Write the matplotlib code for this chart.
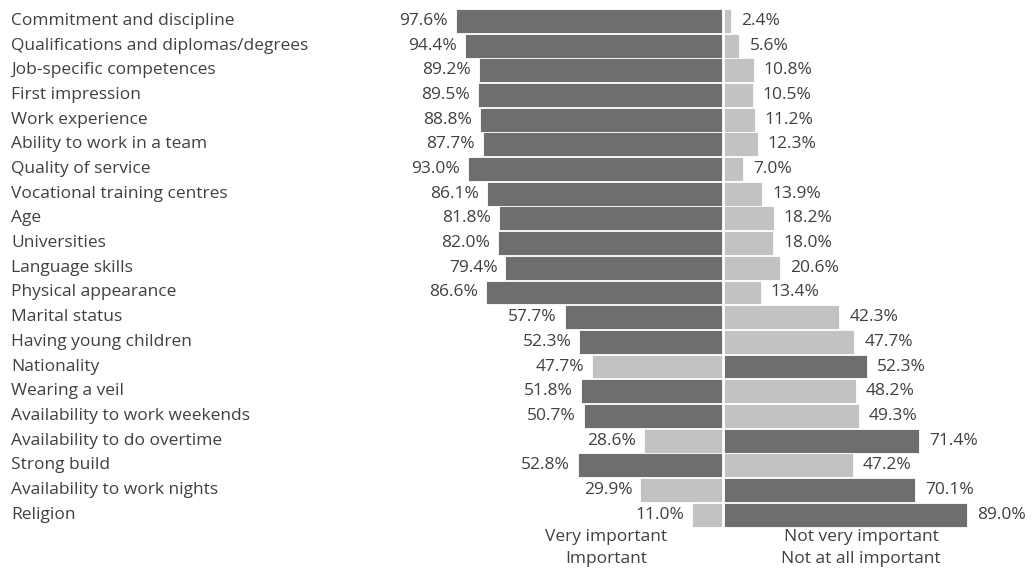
import matplotlib
matplotlib.use("Agg")
import matplotlib.pyplot as plt
from matplotlib.transforms import blended_transform_factory

categories = [
    "Commitment and discipline",
    "Qualifications and diplomas/degrees",
    "Job-specific competences",
    "First impression",
    "Work experience",
    "Ability to work in a team",
    "Quality of service",
    "Vocational training centres",
    "Age",
    "Universities",
    "Language skills",
    "Physical appearance",
    "Marital status",
    "Having young children",
    "Nationality",
    "Wearing a veil",
    "Availability to work weekends",
    "Availability to do overtime",
    "Strong build",
    "Availability to work nights",
    "Religion",
]
important = [97.6, 94.4, 89.2, 89.5, 88.8, 87.7, 93.0, 86.1, 81.8, 82.0, 79.4,
             86.6, 57.7, 52.3, 47.7, 51.8, 50.7, 28.6, 52.8, 29.9, 11.0]
not_important = [2.4, 5.6, 10.8, 10.5, 11.2, 12.3, 7.0, 13.9, 18.2, 18.0, 20.6,
                 13.4, 42.3, 47.7, 52.3, 48.2, 49.3, 71.4, 47.2, 70.1, 89.0]
legend_left = ["Very important", "Important"]
legend_right = ["Not very important", "Not at all important"]

DARK = "#6e6e6e"
LIGHT = "#c2c2c2"
TEXT = "#404040"
FONT = "Open Sans"
FS = 12.5

W, H = 1035, 572
fig = plt.figure(figsize=(W / 100, H / 100), dpi=100)
ax = fig.add_axes([0, 0, 1, 1])

# pixel geometry of the layout
cx = 723.0          # centre line, px
scale = 2.725       # px per percent
row0 = 21.0         # first row centre, px from top
pitch = 24.68       # row spacing, px

ax.set_xlim((0 - cx) / scale, (W - cx) / scale)
ax.set_ylim((H - row0) / pitch, (0 - row0) / pitch)
ax.axis("off")

gap = 0.45
ys = list(range(len(categories)))
for y, a, b in zip(ys, important, not_important):
    ca = DARK if a >= b else LIGHT
    cb = DARK if b > a else LIGHT
    ax.barh(y, -a, left=-gap, height=0.97, color=ca, edgecolor="white", linewidth=0.6)
    ax.barh(y, b, left=gap, height=0.97, color=cb, edgecolor="white", linewidth=0.6)
    ax.text(-gap - a - 8 / scale, y, f"{a:.1f}%", ha="right", va="center",
            fontsize=FS, color=TEXT, family=FONT)
    ax.text(gap + b + 10 / scale, y, f"{b:.1f}%", ha="left", va="center",
            fontsize=FS, color=TEXT, family=FONT)

trans = blended_transform_factory(fig.transFigure, ax.transData)
for y, name in zip(ys, categories):
    ax.text(11 / W, y, name, transform=trans, ha="left", va="center",
            fontsize=FS, color=TEXT, family=FONT)

for i, (l, r) in enumerate(zip(legend_left, legend_right)):
    yy = 1 - (537 + 22 * i) / H
    fig.text(606 / W, yy, l, ha="center", va="center", fontsize=FS, color=TEXT, family=FONT)
    fig.text(861 / W, yy, r, ha="center", va="center", fontsize=FS, color=TEXT, family=FONT)

fig.savefig("out.png", dpi=100, facecolor="white")
